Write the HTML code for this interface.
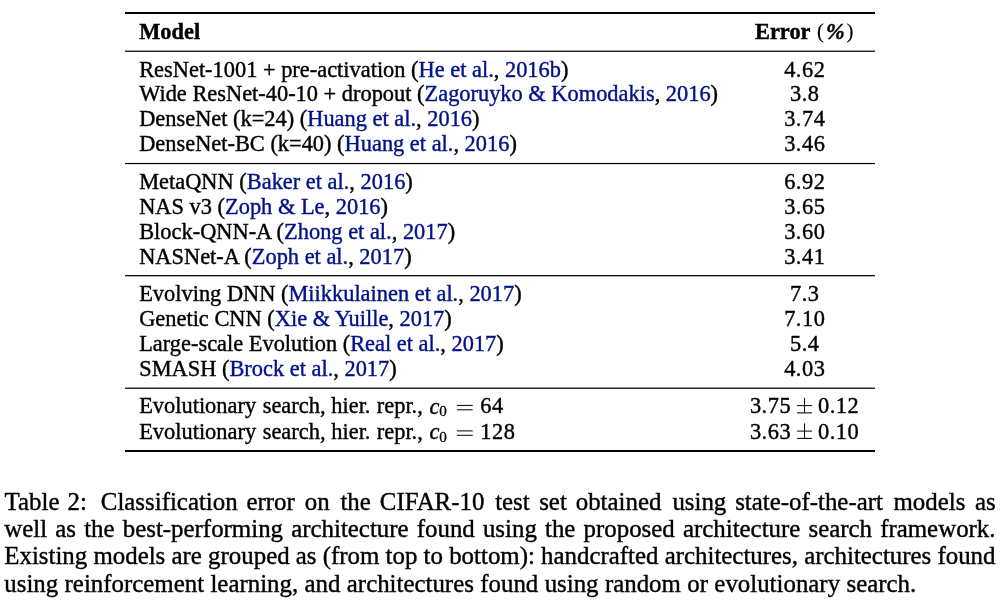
<!DOCTYPE html><html><head><meta charset="utf-8"><title>Table 2</title><style>html,body{margin:0;padding:0;background:#fff;}body{width:1000px;height:607px;overflow:hidden;position:relative;}svg{position:absolute;left:0;top:0;will-change:transform;}text{font-family:"Liberation Serif",serif;white-space:pre;stroke:#000;stroke-width:0.4;}</style></head><body>
<svg width="1000" height="607" viewBox="0 0 1000 607">
<rect x="125" y="12.0" width="750" height="2.0" fill="#000"/>
<rect x="125" y="50.6" width="750" height="1.24" fill="#000"/>
<rect x="125" y="162.9" width="750" height="1.24" fill="#000"/>
<rect x="125" y="275.05" width="750" height="1.24" fill="#000"/>
<rect x="125" y="387.6" width="750" height="1.24" fill="#000"/>
<rect x="125" y="450.0" width="750" height="2.0" fill="#000"/>
<g font-size="22.4" fill="#000">
<text x="139.2" y="39" font-weight="bold">Model</text>
<text x="755.0" y="39" font-weight="bold">Error</text>
<text x="816.9" y="38" font-size="20.7" style="stroke-width:0.15">(</text>
<text x="825.9" y="39" font-weight="bold" font-style="italic">%</text>
<text x="846.6" y="38" font-size="20.7" style="stroke-width:0.15">)</text>
<text x="139.2" y="77">ResNet-1001 + pre-activation (<tspan fill="rgb(0,18,136)" stroke="rgb(0,18,136)">He et al.</tspan>, <tspan fill="rgb(0,18,136)" stroke="rgb(0,18,136)">2016b</tspan>)</text>
<text x="804.75" y="77" text-anchor="middle" letter-spacing="0.5">4.62</text>
<text x="139.2" y="101">Wide ResNet-40-10 + dropout (<tspan fill="rgb(0,18,136)" stroke="rgb(0,18,136)">Zagoruyko &amp; Komodakis</tspan>, <tspan fill="rgb(0,18,136)" stroke="rgb(0,18,136)">2016</tspan>)</text>
<text x="804.75" y="101" text-anchor="middle" letter-spacing="0.5">3.8</text>
<text x="139.2" y="126">DenseNet (k=24) (<tspan fill="rgb(0,18,136)" stroke="rgb(0,18,136)">Huang et al.</tspan>, <tspan fill="rgb(0,18,136)" stroke="rgb(0,18,136)">2016</tspan>)</text>
<text x="804.75" y="126" text-anchor="middle" letter-spacing="0.5">3.74</text>
<text x="139.2" y="151">DenseNet-BC (k=40) (<tspan fill="rgb(0,18,136)" stroke="rgb(0,18,136)">Huang et al.</tspan>, <tspan fill="rgb(0,18,136)" stroke="rgb(0,18,136)">2016</tspan>)</text>
<text x="804.75" y="151" text-anchor="middle" letter-spacing="0.5">3.46</text>
<text x="139.2" y="189">MetaQNN (<tspan fill="rgb(0,18,136)" stroke="rgb(0,18,136)">Baker et al.</tspan>, <tspan fill="rgb(0,18,136)" stroke="rgb(0,18,136)">2016</tspan>)</text>
<text x="804.75" y="189" text-anchor="middle" letter-spacing="0.5">6.92</text>
<text x="139.2" y="214">NAS v3 (<tspan fill="rgb(0,18,136)" stroke="rgb(0,18,136)">Zoph &amp; Le</tspan>, <tspan fill="rgb(0,18,136)" stroke="rgb(0,18,136)">2016</tspan>)</text>
<text x="804.75" y="214" text-anchor="middle" letter-spacing="0.5">3.65</text>
<text x="139.2" y="239">Block-QNN-A (<tspan fill="rgb(0,18,136)" stroke="rgb(0,18,136)">Zhong et al.</tspan>, <tspan fill="rgb(0,18,136)" stroke="rgb(0,18,136)">2017</tspan>)</text>
<text x="804.75" y="239" text-anchor="middle" letter-spacing="0.5">3.60</text>
<text x="139.2" y="264">NASNet-A (<tspan fill="rgb(0,18,136)" stroke="rgb(0,18,136)">Zoph et al.</tspan>, <tspan fill="rgb(0,18,136)" stroke="rgb(0,18,136)">2017</tspan>)</text>
<text x="804.75" y="264" text-anchor="middle" letter-spacing="0.5">3.41</text>
<text x="139.2" y="301">Evolving DNN (<tspan fill="rgb(0,18,136)" stroke="rgb(0,18,136)">Miikkulainen et al.</tspan>, <tspan fill="rgb(0,18,136)" stroke="rgb(0,18,136)">2017</tspan>)</text>
<text x="804.75" y="301" text-anchor="middle" letter-spacing="0.5">7.3</text>
<text x="139.2" y="326">Genetic CNN (<tspan fill="rgb(0,18,136)" stroke="rgb(0,18,136)">Xie &amp; Yuille</tspan>, <tspan fill="rgb(0,18,136)" stroke="rgb(0,18,136)">2017</tspan>)</text>
<text x="804.75" y="326" text-anchor="middle" letter-spacing="0.5">7.10</text>
<text x="139.2" y="351">Large-scale Evolution (<tspan fill="rgb(0,18,136)" stroke="rgb(0,18,136)">Real et al.</tspan>, <tspan fill="rgb(0,18,136)" stroke="rgb(0,18,136)">2017</tspan>)</text>
<text x="804.75" y="351" text-anchor="middle" letter-spacing="0.5">5.4</text>
<text x="139.2" y="376">SMASH (<tspan fill="rgb(0,18,136)" stroke="rgb(0,18,136)">Brock et al.</tspan>, <tspan fill="rgb(0,18,136)" stroke="rgb(0,18,136)">2017</tspan>)</text>
<text x="804.75" y="376" text-anchor="middle" letter-spacing="0.5">4.03</text>
<text x="139.2" y="413">Evolutionary <tspan dx="1.0">search,</tspan> <tspan dx="0.2">hier.</tspan> <tspan dx="0.7">repr.,</tspan></text>
<text x="429.4" y="414" font-style="italic">c</text>
<text x="439.2" y="416" font-size="15.2" style="stroke-width:0.3">0</text>
<rect x="456.9" y="404.90" width="15.8" height="1.0" fill="#000"/>
<rect x="456.9" y="409.30" width="15.8" height="1.0" fill="#000"/>
<text x="480.3" y="413" letter-spacing="0.5">64</text>
<text x="791.1" y="413" text-anchor="end" letter-spacing="0.5">3.75</text>
<rect x="797.1" y="405.10" width="14.8" height="1.0" fill="#000"/>
<rect x="797.1" y="412.35" width="14.8" height="1.05" fill="#000"/>
<rect x="804.05" y="397.90" width="1.0" height="15" fill="#000"/>
<text x="818.0" y="413" letter-spacing="0.5">0.12</text>
<text x="139.2" y="439">Evolutionary <tspan dx="1.0">search,</tspan> <tspan dx="0.2">hier.</tspan> <tspan dx="0.7">repr.,</tspan></text>
<text x="429.4" y="439" font-style="italic">c</text>
<text x="439.2" y="442" font-size="15.2" style="stroke-width:0.3">0</text>
<rect x="456.9" y="430.40" width="15.8" height="1.0" fill="#000"/>
<rect x="456.9" y="434.80" width="15.8" height="1.0" fill="#000"/>
<text x="480.3" y="439" letter-spacing="0.5">128</text>
<text x="791.1" y="439" text-anchor="end" letter-spacing="0.5">3.63</text>
<rect x="797.1" y="430.60" width="14.8" height="1.0" fill="#000"/>
<rect x="797.1" y="437.85" width="14.8" height="1.05" fill="#000"/>
<rect x="804.05" y="423.40" width="1.0" height="15" fill="#000"/>
<text x="818.0" y="439" letter-spacing="0.5">0.10</text>
</g>
<g font-size="24.88" fill="#000">
<text y="510"><tspan x="4.6">Table</tspan><tspan x="67.55">2:</tspan><tspan x="100.84">Classification</tspan><tspan x="246.43">error</tspan><tspan x="304.84">on</tspan><tspan x="340.39">the</tspan><tspan x="379.8">CIFAR-10</tspan><tspan x="495.14">test</tspan><tspan x="539.16">set</tspan><tspan x="575.72">obtained</tspan><tspan x="672.38">using</tspan><tspan x="735.15">state-of-the-art</tspan><tspan x="893.46">models</tspan><tspan x="975.03">as</tspan></text>
<text x="4.3" y="537" word-spacing="1.952">well as the best-performing architecture found using the proposed architecture search framework.</text>
<text x="4.3" y="564" word-spacing="-0.001">Existing models are grouped as (from top to bottom): handcrafted architectures, architectures found</text>
<text x="4.3" y="592" word-spacing="0.15">using reinforcement learning, and architectures found using random or evolutionary search.</text>
</g></svg></body></html>
